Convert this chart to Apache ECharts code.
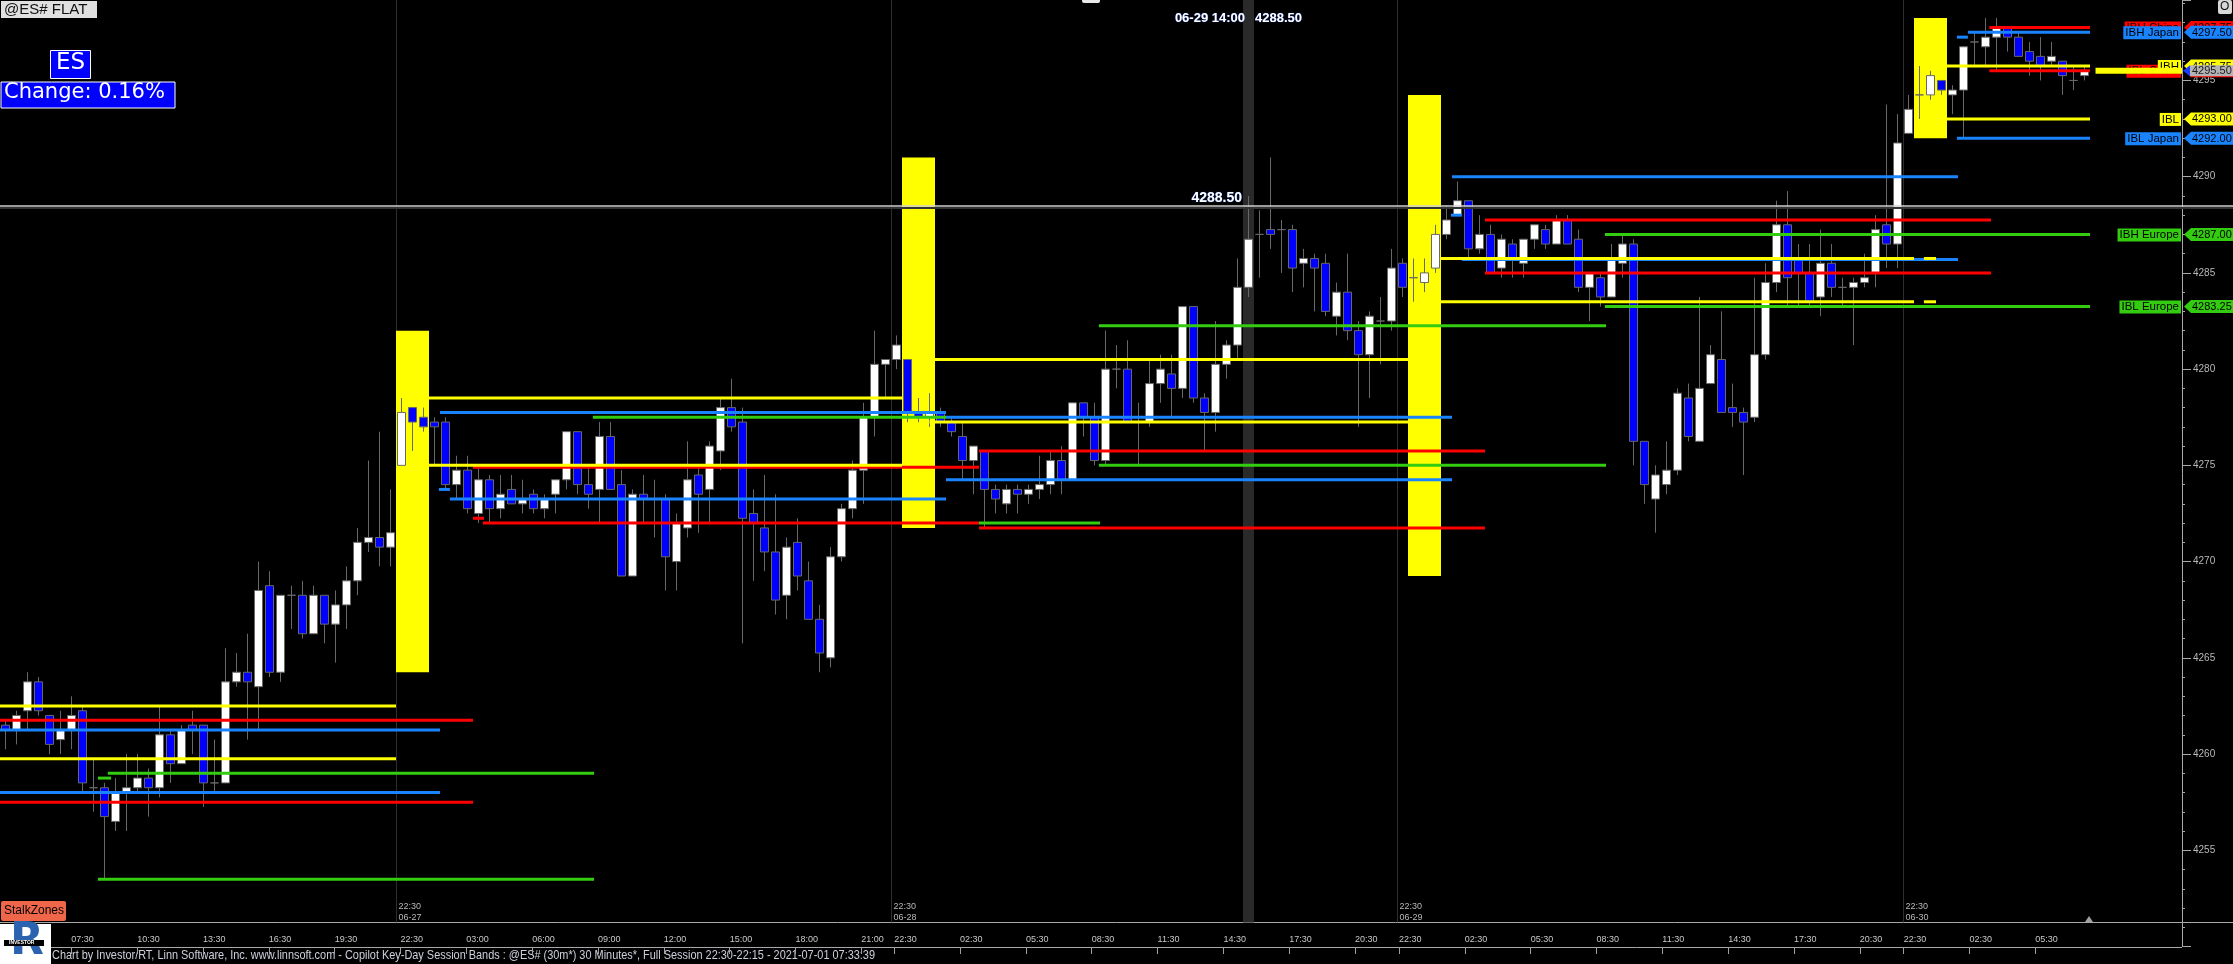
<!DOCTYPE html>
<html><head><meta charset="utf-8">
<script src="https://cdn.jsdelivr.net/npm/echarts/dist/echarts.min.js"></script>
<style>html,body{margin:0;padding:0;background:#000;overflow:hidden}#c{width:2233px;height:964px}</style>
</head><body><div id="c"></div>
<script>
// ---- candle data (30 min bars) ----
const opens = [4261.5,4261.25,4262.25,4263.75,4262.0,4260.75,4261.25,4262.25,4258.25,4258.25,4256.5,4258.0,4258.25,4258.75,4258.25,4261.0,4259.5,4261.5,4261.5,4258.5,
4258.5,4263.75,4264.25,4263.5,4268.75,4264.25,4268.25,4268.25,4266.25,4268.25,4266.75,4267.75,4269.0,4271.0,4271.25,4270.75,4275.0,4278.0,4277.5,4277.25,
4277.25,4274.0,4274.75,4272.5,4274.25,4272.75,4273.75,4273.0,4273.5,4272.75,4273.5,4274.25,4276.75,4274.0,4273.75,4276.5,4274.0,4269.25,4273.5,4273.25,
4273.25,4270.0,4271.75,4274.5,4273.75,4275.75,4278.0,4277.25,4272.5,4271.75,4270.5,4268.25,4271.0,4269.0,4267.0,4265.0,4270.25,4272.75,4274.75,4277.5,
4280.25,4280.5,4280.5,4277.75,4277.5,4277.75,4277.25,4276.5,4275.25,4275.75,4273.75,4273.0,4273.75,4273.5,4273.75,4274.0,4275.25,4274.25,4278.25,4277.5,
4275.25,4280.0,4280.0,4277.25,4277.25,4279.25,4279.75,4279.0,4283.25,4278.5,4277.75,4280.25,4281.25,4284.25,4287.0,4287.25,4287.25,4287.25,4285.5,4285.75,
4285.5,4282.75,4284.0,4282.0,4280.75,4282.5,4282.5,4285.5,4284.75,4284.5,4285.25,4287.0,4288.0,4288.75,4286.25,4287.0,4285.25,4286.5,4285.5,4286.75,
4287.25,4286.5,4287.75,4286.75,4284.25,4284.75,4283.75,4285.5,4286.5,4276.25,4273.25,4274.0,4274.75,4278.5,4276.25,4279.25,4280.5,4278.0,4277.75,4277.5,
4280.75,4284.5,4287.5,4285.75,4285.0,4283.75,4285.5,4284.25,4284.25,4284.5,4285.0,4287.5,4286.5,4292.25,4294.25,4294.25,4295.0,4294.25,4294.5,4297.0,
4296.75,4297.25,4297.75,4297.25,4296.5,4296.25,4296.0,4296.0,4295.0,4295.25];
const closes = [4261.25,4262.0,4263.75,4262.25,4260.5,4261.25,4262.0,4258.5,4258.25,4256.75,4258.0,4258.25,4258.75,4258.25,4261.0,4259.5,4261.25,4261.25,4258.5,4258.5,
4263.75,4264.25,4263.75,4268.5,4264.25,4268.25,4268.25,4266.25,4268.25,4266.75,4267.75,4269.0,4271.0,4271.25,4270.75,4271.5,4277.75,4277.25,4277.0,4277.0,
4274.0,4274.75,4272.75,4274.25,4272.75,4273.5,4273.0,4273.25,4272.75,4273.25,4274.25,4276.75,4274.0,4273.5,4276.5,4273.75,4269.25,4273.5,4273.25,4273.25,
4270.25,4272.0,4274.25,4273.5,4276.0,4278.0,4277.0,4272.25,4272.0,4270.5,4268.0,4270.75,4269.25,4267.0,4265.25,4270.25,4272.75,4274.75,4277.5,4280.25,
4280.5,4281.25,4277.75,4277.5,4277.75,4277.25,4276.75,4275.25,4276.0,4273.75,4273.25,4273.75,4273.5,4273.75,4274.0,4275.25,4274.25,4278.25,4277.5,4275.25,
4280.0,4280.0,4277.25,4277.25,4279.25,4280.0,4279.0,4283.25,4278.5,4277.75,4280.25,4281.25,4284.25,4286.75,4287.0,4287.0,4287.25,4285.25,4285.75,4285.25,
4283.0,4284.0,4282.0,4280.75,4282.75,4282.5,4285.25,4284.25,4284.75,4285.0,4287.0,4287.75,4288.75,4286.25,4287.0,4285.0,4286.75,4285.75,4286.75,4287.5,
4286.5,4287.75,4286.5,4284.25,4285.0,4283.75,4285.75,4286.5,4276.25,4274.0,4274.5,4274.75,4278.75,4276.5,4279.0,4280.75,4277.75,4277.75,4277.25,4280.75,
4284.5,4287.5,4284.75,4285.0,4283.5,4285.5,4284.25,4284.25,4284.5,4284.75,4287.25,4286.5,4291.75,4293.5,4294.25,4295.25,4294.5,4294.5,4296.75,4297.0,
4297.25,4297.75,4297.25,4296.25,4296.0,4295.75,4296.25,4295.25,4295.0,4295.5];
const lows = [4260.25,4260.5,4261.25,4262.0,4260.0,4260.0,4260.25,4258.0,4257.0,4253.5,4256.0,4256.0,4258.0,4256.75,4257.75,4258.5,4259.5,4260.0,4257.25,4258.0,
4258.5,4263.5,4260.75,4261.25,4264.0,4263.75,4266.5,4266.0,4266.25,4265.75,4264.75,4266.5,4268.25,4270.5,4269.75,4269.75,4275.0,4275.75,4276.75,4275.0,
4273.75,4273.25,4272.5,4272.0,4272.0,4272.25,4273.0,4272.5,4272.5,4272.25,4272.5,4273.75,4273.5,4272.75,4272.0,4273.75,4269.25,4269.25,4272.0,4271.25,
4268.5,4268.5,4271.25,4271.5,4272.0,4274.75,4276.75,4265.75,4269.0,4269.5,4267.25,4267.0,4268.5,4267.0,4264.25,4264.5,4270.0,4272.25,4273.0,4276.5,
4278.5,4280.0,4277.25,4277.25,4277.0,4277.0,4276.5,4274.25,4273.5,4271.75,4272.5,4272.5,4272.5,4273.0,4273.25,4273.5,4273.5,4274.25,4276.5,4275.0,
4275.0,4279.0,4277.25,4275.0,4277.0,4278.25,4277.5,4278.5,4278.25,4275.75,4276.75,4279.5,4280.5,4283.75,4284.75,4286.25,4285.0,4284.0,4284.25,4283.0,
4282.75,4281.75,4281.5,4277.0,4278.5,4280.25,4282.0,4283.75,4283.5,4284.0,4285.0,4286.75,4288.0,4285.75,4286.0,4285.0,4284.75,4284.75,4284.75,4286.25,
4286.25,4286.5,4286.5,4284.0,4282.5,4283.25,4283.75,4284.75,4275.0,4273.0,4271.5,4273.5,4274.5,4276.25,4276.25,4279.25,4277.75,4277.0,4274.5,4277.25,
4280.5,4284.0,4283.25,4283.25,4283.25,4282.75,4283.75,4283.25,4281.25,4284.25,4284.25,4285.25,4285.25,4292.25,4293.0,4294.0,4294.25,4293.25,4292.0,4295.75,
4295.75,4295.5,4296.5,4296.25,4295.25,4295.0,4295.75,4294.25,4294.5,4295.0];
const highs = [4261.75,4262.25,4264.25,4264.0,4262.0,4262.25,4263.0,4262.5,4259.75,4258.5,4258.75,4260.0,4260.0,4259.25,4262.5,4261.25,4261.5,4262.25,4261.5,4260.75,
4265.5,4265.25,4266.25,4270.0,4269.5,4268.25,4268.75,4269.0,4268.75,4268.25,4268.5,4269.75,4271.75,4275.25,4276.75,4273.75,4278.5,4278.0,4278.0,4277.5,
4277.5,4275.5,4275.5,4275.0,4274.5,4274.5,4274.5,4274.25,4273.75,4273.5,4274.25,4276.75,4276.75,4275.0,4277.25,4277.25,4274.75,4273.75,4274.5,4274.25,
4273.5,4272.5,4276.25,4275.0,4276.25,4278.5,4279.5,4278.0,4273.75,4274.5,4273.5,4271.25,4272.25,4270.0,4267.75,4270.75,4273.0,4275.25,4278.25,4282.0,
4280.5,4281.75,4280.5,4278.5,4278.75,4278.0,4277.5,4277.25,4276.0,4275.75,4274.0,4274.0,4274.0,4274.0,4275.5,4275.75,4276.0,4278.25,4278.25,4278.25,
4282.0,4281.25,4281.5,4278.25,4280.5,4280.75,4280.75,4283.25,4283.25,4278.75,4282.5,4281.5,4285.75,4289.0,4288.25,4291.0,4287.75,4287.5,4286.25,4286.0,
4286.0,4284.5,4286.0,4282.5,4283.0,4283.75,4286.25,4285.75,4285.75,4285.75,4287.5,4288.5,4289.75,4288.75,4288.0,4287.5,4287.0,4286.75,4286.75,4287.5,
4287.5,4288.0,4288.0,4287.25,4285.0,4285.0,4286.5,4287.0,4286.75,4276.25,4275.0,4276.25,4279.0,4279.25,4283.75,4281.25,4283.0,4279.25,4278.0,4284.75,
4285.5,4288.75,4289.25,4286.5,4286.5,4287.25,4286.5,4284.75,4284.75,4286.0,4288.0,4293.75,4293.25,4294.25,4295.75,4295.5,4295.0,4294.75,4296.75,4297.5,
4298.25,4298.25,4297.75,4297.5,4297.0,4297.25,4297.0,4296.0,4295.75,4295.75];

// ---- time axis ticks (bar index at tick, label) ----
const tickIndex = [6,12,18,24,30,36,42,48,54,60,66,72,78,81,87,93,99,105,111,117,123,127,133,139,145,151,157,163,169,173,179,185];
const tickText  = ['07:30','10:30','13:30','16:30','19:30','22:30','03:00','06:00','09:00','12:00','15:00','18:00','21:00','22:30','02:30','05:30','08:30','11:30','14:30','17:30','20:30','22:30','02:30','05:30','08:30','11:30','14:30','17:30','20:30','22:30','02:30','05:30'];
const slotCount = 198;

// ---- sessions ----
const sessionIndex = [36, 81, 127, 173];
const sessionDate = ['06-27','06-28','06-29','06-30'];
// key-day bands [fromIdx, toIdx, top, bottom]
const bands = [[35.5,38.5,4282.0,4264.25],[81.5,84.5,4291.0,4271.75],[127.5,130.5,4294.25,4269.25],[173.5,176.5,4298.25,4292.0]];
// level segments [fromIdx, toIdx, price, colour]
const levelSegs = [
 [-0.5,35.5,4262.5,'Y'],[-0.5,42.5,4261.75,'R'],[-0.5,39.5,4261.25,'B'],[-0.5,35.5,4259.75,'Y'],
 [9.3,53.5,4259.0,'G'],[8.4,9.6,4258.75,'G'],[-0.5,39.5,4258.0,'B'],[-0.5,42.5,4257.5,'R'],[8.4,53.5,4253.5,'G'],
 [38.5,81.5,4278.5,'Y'],[39.5,85.5,4277.75,'B'],[42.5,88.5,4274.9,'R'],[38.5,81.5,4275.0,'Y'],
 [39.4,40.4,4273.75,'B'],[40.4,85.5,4273.25,'B'],[42.5,43.5,4272.25,'R'],[43.4,88.5,4272.0,'R'],[53.4,85.5,4277.5,'G'],
 [84.5,127.5,4280.5,'Y'],[85.5,131.5,4277.5,'B'],[84.0,127.5,4277.25,'Y'],[88.5,134.5,4275.75,'R'],[85.5,131.5,4274.25,'B'],
 [99.4,145.5,4275.0,'G'],[99.4,145.5,4282.25,'G'],[88.5,134.5,4271.75,'R'],[88.5,99.5,4272.0,'G'],
 [131.5,177.5,4290.0,'B'],[131.4,132.4,4288.0,'B'],[134.5,180.5,4287.75,'R'],[145.4,189.5,4287.0,'G'],
 [132.4,177.5,4285.7,'B'],[130.4,173.5,4285.75,'Y'],[174.4,175.5,4285.75,'Y'],[134.5,180.5,4285.0,'R'],
 [130.4,173.5,4283.5,'Y'],[174.4,175.5,4283.5,'Y'],[145.4,189.5,4283.25,'G'],
 [180.35,189.5,4297.75,'R'],[178.4,189.5,4297.5,'B'],[177.4,178.4,4297.25,'B'],[176.4,189.5,4295.75,'Y'],
 [180.35,189.5,4295.5,'R'],[176.4,189.5,4293.0,'Y'],[177.4,189.5,4292.0,'B']
];
// right-axis level labels
const axisTags = [
 ['IBH China',4297.75,'R'],['IBH Japan',4297.5,'B'],['IBL China',4295.5,'R'],['IBH',4295.75,'Y'],
 ['IBL',4293.0,'Y'],['IBL Japan',4292.0,'B'],['IBH Europe',4287.0,'G'],['IBL Europe',4283.25,'G']
];
const lastPrice = 4295.5;
const crossIndex = 113, crossPrice = 4288.5, crossTime = '06-29 14:00';
const yMin = 4250, yMax = 4299.18, yStep = 5;
const visibleMin = 4251.25;

const COL = {Y:'#ffff00', R:'#ff0000', B:'#1a84ff', G:'#33cc11'};
const FONT = 'Liberation Sans, Arial, sans-serif';

const cats = Array.from({length: slotCount}, (_, i) => String(i));
const candles = opens.map((o, i) => [o, closes[i], lows[i], highs[i]]);
const tickMap = new Map(tickIndex.map((k, j) => [k, tickText[j]]));

function custom(name, n, z, render) {
  return {type:'custom', name, xAxisIndex:0, yAxisIndex:0, z, silent:true, clip:false,
    data: Array.from({length:n}, () => [0, 4270]), encode:{x:0, y:1}, renderItem: render};
}

const chart = echarts.init(document.getElementById('c'), null, {renderer:'canvas'});
const option = {
  backgroundColor:'#000',
  animation:false,
  grid:[{left:0, width:2178, top:0, height:946.5},
        {left:-5.5, width:2178, top:922, height:25}],
  xAxis:[{type:'category', gridIndex:0, data:cats, show:false, boundaryGap:true},
         {type:'category', gridIndex:1, data:cats, position:'top', boundaryGap:true,
          axisLine:{show:false},
          axisTick:{show:true, alignWithLabel:true, inside:true, length:7, interval:(i)=>tickMap.has(i), lineStyle:{color:'#a0a0a0'}},
          axisLabel:{show:true, inside:true, interval:(i)=>tickMap.has(i), formatter:(v,i)=>tickMap.get(i)||'',
                     align:'left', color:'#c8c8c8', fontSize:9, fontFamily:FONT, margin:13}}],
  yAxis:[{type:'value', gridIndex:0, position:'right', offset:4, min:yMin, max:yMax, interval:yStep,
          axisLine:{show:true, lineStyle:{color:'#a8a8a8'}},
          axisTick:{show:true, length:9, lineStyle:{color:'#a8a8a8'}},
          minorTick:{show:true, splitNumber:5, length:3, lineStyle:{color:'#a8a8a8'}},
          splitLine:{show:false}, minorSplitLine:{show:false},
          axisLabel:{color:'#b8b8b8', fontSize:10, fontFamily:FONT, margin:11, showMinLabel:false, showMaxLabel:false,
                     formatter:(v)=>String(v), verticalAlign:'middle', padding:[0,0,6,0]}},
         {type:'value', gridIndex:1, show:false}],
  series:[
    // crosshair column
    custom('cross', 1, 0, (params, api) => {
      const c = api.coord([crossIndex, visibleMin]); const w = api.size([1,0])[0];
      return {type:'rect', shape:{x:c[0]-w/2, y:0, width:w, height:c[1]}, style:{fill:'#2a2a2a'}};
    }),
    // session separators
    custom('sessions', sessionIndex.length, 1, (params, api) => {
      const i = params.dataIndex;
      const c = api.coord([sessionIndex[i], visibleMin]); const w = api.size([1,0])[0];
      const x = Math.round(c[0]-w/2)+0.5;
      return {type:'group', children:[
        {type:'line', shape:{x1:x, y1:0, x2:x, y2:c[1]}, style:{stroke:'#2e2e2e', lineWidth:1}},
        {type:'text', x:x+2, y:c[1]-16, style:{text:'22:30', fill:'#b8b8b8', font:'9px '+FONT, verticalAlign:'middle'}},
        {type:'text', x:x+2, y:c[1]-5, style:{text:sessionDate[i], fill:'#b8b8b8', font:'9px '+FONT, verticalAlign:'middle'}}
      ]};
    }),
    // key-day bands
    custom('bands', bands.length, 1, (params, api) => {
      const b = bands[params.dataIndex];
      const t = api.coord([0, b[2]]), bt = api.coord([0, b[3]]); const w = api.size([1,0])[0];
      return {type:'rect', shape:{x:t[0]+b[0]*w, y:t[1], width:(b[1]-b[0])*w, height:bt[1]-t[1]}, style:{fill:'#ffff00'}};
    }),
    {type:'candlestick', name:'ES', xAxisIndex:0, yAxisIndex:0, data:candles, barWidth:9, z:3,
     itemStyle:{color:'#ffffff', color0:'#0000ff', borderColor:'#686868', borderColor0:'#686868', borderWidth:1}},
    // level lines
    custom('levels', levelSegs.length, 4, (params, api) => {
      const s = levelSegs[params.dataIndex];
      const c = api.coord([0, s[2]]); const w = api.size([1,0])[0];
      return {type:'line', shape:{x1:c[0]+s[0]*w, y1:c[1], x2:c[0]+s[1]*w, y2:c[1]}, style:{stroke:COL[s[3]], lineWidth:3}};
    }),
    // crosshair line + labels
    custom('crossline', 1, 5, (params, api) => {
      const c = api.coord([crossIndex, crossPrice]); const w = api.size([1,0])[0];
      const W = api.getWidth(); const y = Math.round(c[1]);
      const lab = {fill:'#ffffff', textShadowColor:'#3060ff', textShadowBlur:1};
      return {type:'group', children:[
        {type:'line', shape:{x1:0, y1:y+2, x2:W, y2:y+2}, style:{stroke:'#333333', lineWidth:2}},
        {type:'line', shape:{x1:0, y1:y, x2:W, y2:y}, style:{stroke:'#d0d0d0', lineWidth:1.5}},
        {type:'text', x:c[0]-w/2-1, y:y-1, style:Object.assign({text:crossPrice.toFixed(2), align:'right', verticalAlign:'bottom', font:'bold 14px '+FONT}, lab)},
        {type:'text', x:c[0]-w/2+2, y:18, style:Object.assign({text:crossTime, align:'right', verticalAlign:'middle', font:'bold 13px '+FONT}, lab)},
        {type:'text', x:c[0]+w/2+1, y:18, style:Object.assign({text:crossPrice.toFixed(2), align:'left', verticalAlign:'middle', font:'bold 13px '+FONT}, lab)}
      ]};
    }),
    // last price line + axis tags
    custom('tags', axisTags.length + 1, 10, (params, api) => {
      const i = params.dataIndex;
      const ax = params.coordSys.x + params.coordSys.width + 4;
      const W = api.getWidth();
      if (i === axisTags.length) {
        const c = api.coord([opens.length - 1, lastPrice]); const w = api.size([1,0])[0];
        const y = c[1];
        return {type:'group', children:[
          {type:'line', shape:{x1:c[0]+w, y1:y, x2:ax, y2:y}, style:{stroke:'#ffff00', lineWidth:6}},
          {type:'polygon', shape:{points:[[ax+1,y],[ax+8,y-5.5],[ax+8,y+5.5]]}, style:{fill:'#1a3cff'}},
          {type:'rect', shape:{x:ax+8, y:y-5.5, width:W-ax-8, height:11}, style:{fill:'#b4b4b4'}},
          {type:'text', x:ax+10, y:y+0.5, style:{text:lastPrice.toFixed(2), font:'11px '+FONT, fill:'#1a1a1a', verticalAlign:'middle'}}
        ]};
      }
      const t = axisTags[i]; const y = api.coord([0, t[1]])[1]; const col = COL[t[2]];
      return {type:'group', children:[
        {type:'text', x:ax-1, y:y+0.5, style:{text:t[0], font:'11.5px '+FONT, fill:'#000', align:'right', verticalAlign:'middle',
          backgroundColor:col, padding:[1,2,0,2]}},
        {type:'polygon', shape:{points:[[ax+2,y],[ax+9,y-6.5],[ax+9,y+6.5]]}, style:{fill:col}},
        {type:'rect', shape:{x:ax+9, y:y-6.5, width:W-ax-9, height:13}, style:{fill:col}},
        {type:'text', x:ax+10, y:y+0.5, style:{text:t[1].toFixed(2), font:'11px '+FONT, fill:'#000', verticalAlign:'middle'}}
      ]};
    })
  ],
  graphic:[
    {type:'rect', left:1, top:1, shape:{width:96, height:17}, style:{fill:'#e0e0e0'}},
    {type:'text', left:4, top:2, style:{text:'@ES# FLAT', font:'15px '+FONT, fill:'#111'}},
    {type:'rect', left:50, top:50, shape:{width:40, height:28}, style:{fill:'#0000ff', stroke:'#ffffff', lineWidth:1}},
    {type:'text', left:56, top:52, style:{text:'ES', font:'23px DejaVu Sans, sans-serif', fill:'#fff'}},
    {type:'rect', left:0.5, top:81.5, shape:{width:174, height:26}, style:{fill:'#0000ff', stroke:'#ffffff', lineWidth:1}},
    {type:'text', left:4, top:82, style:{text:'Change: 0.16%', font:'21px DejaVu Sans, sans-serif', fill:'#fff'}},
    {type:'rect', left:1082, top:-3, shape:{width:18, height:6, r:2}, style:{fill:'#e8e8e8'}},
    {type:'rect', left:2218, top:0, shape:{width:14, height:14, r:2}, style:{fill:'#d8d8d8'}},
    {type:'text', left:2220, top:1, style:{text:'O', font:'12px '+FONT, fill:'#111'}},
    {type:'rect', left:1, top:901, shape:{width:65, height:20, r:2}, style:{fill:'#f0664a'}},
    {type:'text', left:4, top:905, style:{text:'StalkZones', font:'12px '+FONT, fill:'#000'}},
    {type:'line', shape:{x1:0, y1:922.5, x2:2233, y2:922.5}, style:{stroke:'#a8a8a8', lineWidth:1}},
    {type:'line', shape:{x1:0, y1:947.5, x2:2182, y2:947.5}, style:{stroke:'#a8a8a8', lineWidth:1}},
    {type:'polygon', shape:{points:[[2085,922],[2093,922],[2089,916]]}, style:{fill:'#a0a0a0'}},
    {type:'rect', left:0, top:924, shape:{width:51, height:40}, style:{fill:'#ffffff'}},
    {type:'text', left:10, top:921, style:{text:'R', font:'bold 44px DejaVu Sans, sans-serif', fill:'#2b63b0'}},
    {type:'rect', left:4, top:940, shape:{width:40, height:6}, style:{fill:'#000'}},
    {type:'text', left:9, top:940, style:{text:'INVESTOR', font:'bold 5px '+FONT, fill:'#fff'}},
    {type:'text', x:52, y:949, scaleX:0.84, style:{text:'Chart by Investor/RT, Linn Software, Inc. www.linnsoft.com - Copilot Key-Day Session Bands : @ES# (30m*) 30 Minutes*, Full Session 22:30-22:15 - 2021-07-01 07:33:39',
      font:'13px '+FONT, fill:'#cdd0dc'}}
  ]
};
chart.setOption(option);
</script></body></html>
